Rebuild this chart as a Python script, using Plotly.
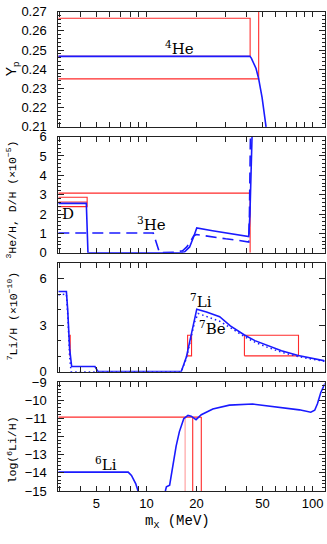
import math
import plotly.graph_objects as go

# ---------------- data ----------------
X_MIN, X_MAX = 2.95, 118.0

# Panel 1: Yp (4He)
he4_x = [2.95, 10, 30, 42.0, 42.8, 43.6, 44.6, 45.7, 47.4, 49.7, 52.5]
he4_y = [0.2467, 0.2467, 0.2467, 0.2467, 0.2458, 0.2440, 0.2422, 0.2404, 0.2350, 0.2252, 0.2100]
yp_lo, yp_mid, yp_hi = 0.235, 0.2467, 0.2665
yp_mx_hi, yp_mx_lo = 42.1, 47.4

# Panel 2: D/H (solid) and 3He/H (dashed), x 1e-5
dh_x = [2.95, 4.35, 4.45, 10, 15.8, 17.0, 18.2, 19.3, 20.1, 25, 30, 35, 41.3, 42.0, 42.6, 43.3]
dh_y = [2.55, 2.55, 0.0, 0.0, 0.0, 0.05, 0.3, 0.85, 1.28, 1.14, 1.04, 0.95, 0.84, 2.0, 4.0, 6.2]
he3_x = [2.95, 11.0, 12.0, 13.5, 15.0, 16.5, 17.5, 18.5, 19.3, 20.0, 25, 30, 35, 41.3, 41.7, 42.0, 42.3]
he3_y = [1.02, 1.02, 0.0, 0.0, 0.03, 0.1, 0.3, 0.62, 0.88, 0.94, 0.80, 0.72, 0.65, 0.55, 2.0, 4.0, 6.2]
d_lo, d_mid, d_hi, d_mx = 2.38, 2.62, 2.87, 4.4
he3_hi, he3_mx = 3.08, 42.1

# Panel 3: 7Li/H (solid) and 7Be (dotted), x 1e-10
li7_x = [2.95, 3.3, 3.36, 3.45, 3.55, 4.9, 5.12, 10, 16.2, 17.4, 18.6, 19.5, 20.1, 23, 27.6, 32, 38.9, 45, 52.5, 65, 82, 100, 119]
li7_y = [5.17, 5.17, 4.0, 1.5, 0.33, 0.33, 0.0, 0.0, 0.0, 0.94, 2.3, 3.4, 4.03, 3.85, 3.54, 2.95, 2.36, 2.0, 1.73, 1.35, 1.04, 0.85, 0.69]
be7_x = [2.95, 3.3, 3.37, 3.45, 3.52, 10, 16.2, 17.4, 18.6, 19.5, 20.5, 24, 27.6, 33, 38.9, 45, 52.5, 65, 82, 100, 119]
be7_y = [4.95, 5.0, 3.5, 1.0, 0.0, 0.0, 0.0, 0.85, 2.2, 3.2, 3.75, 3.5, 3.25, 2.75, 2.25, 1.9, 1.6, 1.25, 0.97, 0.8, 0.66]
li7_lo, li7_hi = 1.02, 2.35
li7_boxes = [(3.46, 3.48), (17.7, 18.7), (38.9, 82.3)]

# Panel 4: log(6Li/H)
li6a_x = [2.95, 5, 7.77, 8.13, 8.62, 8.91]
li6a_y = [-13.96, -13.96, -13.96, -14.14, -14.59, -15.0]
li6b_x = [13.0, 13.2, 13.8, 14.4, 15.1, 15.8, 16.8, 17.8, 18.6, 19.9, 21.4, 25.1, 31.6, 43.6, 60.3, 83.3, 97.6, 103, 107, 112, 119]
li6b_y = [-15.0, -14.77, -14.68, -13.69, -12.53, -11.73, -11.01, -10.84, -10.88, -11.07, -10.80, -10.48, -10.27, -10.21, -10.39, -10.53, -10.66, -10.55, -10.2, -9.59, -9.05]
li6_obs = -10.93
li6_mx = [17.1, 19.0, 21.4]

x_tickvals = [3, 4, 5, 6, 7, 8, 9, 10, 20, 30, 40, 50, 60, 70, 80, 90, 100]
x_ticktext = ["", "", "5", "", "", "", "", "10", "20", "", "", "50", "", "", "", "", "100"]

# ---------------- styling ----------------
BLUE = "#1a1aff"
RED = "#ff2a2a"
PALE = "#ff9a9a"
W, H = 327, 544
xl, xr = 58.3, 324.5
panels_px = [(4.7, 123.3), (133.3, 252.7), (263.3, 375.0), (385.7, 497.7)]
doms = [[1 - b / H, 1 - t / H] for t, b in panels_px]

fig = go.Figure()

def line(xs, ys, p, color=BLUE, width=1.6, dash="solid"):
    fig.add_trace(go.Scatter(x=xs, y=ys, mode="lines", xaxis="x" + ("" if p == 1 else str(p)),
                             yaxis="y" + ("" if p == 1 else str(p)),
                             line=dict(color=color, width=width, dash=dash),
                             hoverinfo="skip", showlegend=False))

# Panel 1
line([X_MIN, yp_mx_hi, yp_mx_hi, X_MIN], [yp_hi, yp_hi, yp_mid, yp_mid], 1, RED, 1.1)
line([X_MIN, yp_mx_lo, yp_mx_lo], [yp_lo, yp_lo, 0.27], 1, RED, 1.1)
line(he4_x, he4_y, 1)

# Panel 2
line([X_MIN, d_mx, d_mx, X_MIN], [d_hi, d_hi, d_lo, d_lo], 2, RED, 1.1)
line([X_MIN, d_mx], [d_mid, d_mid], 2, RED, 1.0)
line([X_MIN, he3_mx, he3_mx], [he3_hi, he3_hi, 0], 2, RED, 1.1)
line(dh_x, dh_y, 2)
line(he3_x, he3_y, 2, dash="11px,6px")

# Panel 3
for x0, x1 in li7_boxes:
    line([x0, x1, x1, x0, x0], [li7_lo, li7_lo, li7_hi, li7_hi, li7_lo], 3, RED, 1.1)
line(be7_x, be7_y, 3, width=1.5, dash="1.5px,3px")
line(li7_x, li7_y, 3)

# Panel 4
line([X_MIN, li6_mx[-1]], [li6_obs, li6_obs], 4, RED, 1.1)
for i, mx in enumerate(li6_mx):
    line([mx, mx], [li6_obs, -15], 4, PALE if i == 0 else RED, 1.1)
line(li6a_x, li6a_y, 4)
line(li6b_x, li6b_y, 4)

tickfont = dict(family="Liberation Sans, Arial, sans-serif", size=13, color="black")
common_x = dict(type="log", range=[math.log10(X_MIN), math.log10(X_MAX)],
                domain=[xl / W, xr / W], showline=True, mirror="ticks", linecolor="#222",
                linewidth=1, ticks="inside", ticklen=5, tickcolor="#222",
                tickmode="array", tickvals=x_tickvals, ticktext=x_ticktext,
                showgrid=False, zeroline=False, tickfont=tickfont)

yspecs = [
    dict(range=[0.21, 0.27], dtick=0.01, tick0=0.21, tickformat=".2f", minor=dict(dtick=0.002, ticklen=3, ticks="inside", tickcolor="#222")),
    dict(range=[0, 6], dtick=1, tick0=0, minor=dict(dtick=0.2, ticklen=3, ticks="inside", tickcolor="#222")),
    dict(range=[0, 7], dtick=3, tick0=0, minor=dict(dtick=1, ticklen=3, ticks="inside", tickcolor="#222")),
    dict(range=[-15, -9], dtick=1, tick0=-15, minor=dict(dtick=0.2, ticklen=3, ticks="inside", tickcolor="#222")),
]

layout = dict(width=W, height=H, margin=dict(l=0, r=0, t=0, b=0), autosize=False,
              paper_bgcolor="white", plot_bgcolor="white", showlegend=False)
for i in range(4):
    p = i + 1
    sx = "" if p == 1 else str(p)
    layout["xaxis" + sx] = dict(common_x, anchor="y" + sx, showticklabels=(p == 4),
                                **({} if p == 1 else {"matches": "x"}))
    layout["yaxis" + sx] = dict(domain=doms[i], anchor="x" + sx, showline=True, mirror="ticks",
                                linecolor="#222", linewidth=1, ticks="inside", ticklen=6,
                                tickcolor="#222", showgrid=False, zeroline=False,
                                tickfont=tickfont, ticklabelstandoff=8, **yspecs[i])
fig.update_layout(**layout)

serif = "DejaVu Serif, Liberation Serif, serif"
mono = "Liberation Mono, DejaVu Sans Mono, monospace"
def ann(text, x, y, p, size=15, xanchor="center"):
    sx = "" if p == 1 else str(p)
    fig.add_annotation(text=text, x=math.log10(x), y=y, xref="x" + sx, yref="y" + sx,
                       showarrow=False, xanchor=xanchor, font=dict(family=serif, size=size, color="black"))

ann("<sup>4</sup>He", 15.8, 0.2513, 1)
ann("D", 3.38, 1.98, 2)
ann("<sup>3</sup>He", 10.7, 1.48, 2)
ann("<sup>7</sup>Li", 21.4, 4.58, 3)
ann("<sup>7</sup>Be", 25.1, 2.81, 3)
ann("<sup>6</sup>Li", 5.75, -13.51, 4)

def ytitle(text, ypx, fam=mono, size=11.5):
    fig.add_annotation(text=text, x=12 / W, y=1 - ypx / H, xref="paper", yref="paper",
                       textangle=-90, showarrow=False, xanchor="center", yanchor="middle",
                       font=dict(family=fam, size=size, color="black"))

ytitle("Y<sub>p</sub>", 64, fam="Liberation Sans, Arial, sans-serif", size=14)
ytitle("<sup>3</sup>He/H, D/H (×10<sup>−5</sup>)", 198)
ytitle("<sup>7</sup>Li/H (×10<sup>−10</sup>)", 318)
ytitle("log(<sup>6</sup>Li/H)", 456)

fig.add_annotation(text="m<sub>X</sub> (MeV)", x=177 / W, y=1 - 530 / H, xref="paper", yref="paper",
                   showarrow=False, xanchor="center", yanchor="middle",
                   font=dict(family=mono, size=14, color="black"))

fig.write_html("out.html", config={"displayModeBar": False},
               post_script="document.body.style.margin='0';document.body.style.overflow='hidden';")
